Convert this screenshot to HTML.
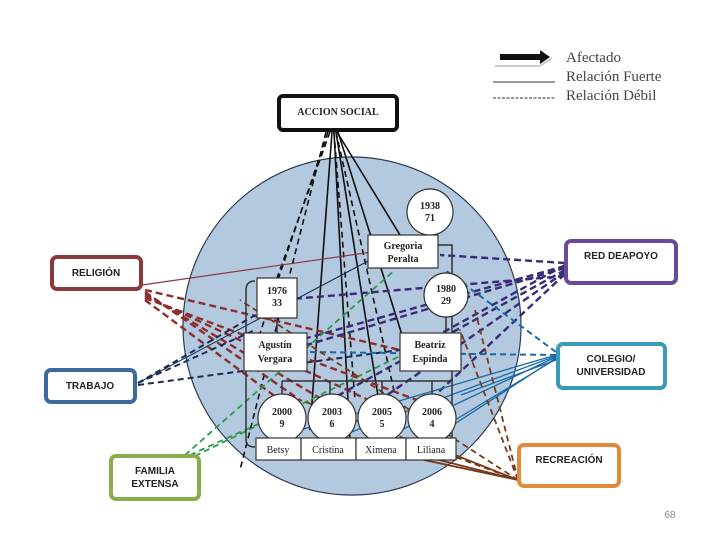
<!DOCTYPE html>
<html><head><meta charset="utf-8"><style>
body{margin:0;background:#fff}
svg{display:block}
.s{font-family:"Liberation Serif",serif;font-weight:bold;font-size:10px;fill:#222}
.b{font-family:"Liberation Sans",sans-serif;font-weight:bold;font-size:10px;fill:#222}
.lg{font-family:"Liberation Serif",serif;font-size:15px;fill:#444}
</style></head><body>
<svg width="720" height="540" viewBox="0 0 720 540">
<!-- legend -->
<polygon points="500,54 540,54 540,50 550,57 540,64 540,60 500,60" fill="#111"/>
<line x1="495" y1="66" x2="540" y2="66" stroke="#ccc" stroke-width="2"/>
<line x1="540" y1="66" x2="552" y2="58" stroke="#ccc" stroke-width="2"/>
<line x1="493" y1="82" x2="555" y2="82" stroke="#333" stroke-width="1"/>
<line x1="493" y1="98" x2="555" y2="98" stroke="#333" stroke-width="1" stroke-dasharray="3,1.5"/>
<text x="566" y="62" class="lg">Afectado</text>
<text x="566" y="81" class="lg">Relación Fuerte</text>
<text x="566" y="100" class="lg">Relación Débil</text>

<circle cx="352" cy="326" r="169" fill="#b3c9df" stroke="#2a3a55" stroke-width="1.2"/>

<!-- lines from accion social -->
<g stroke="#111" stroke-width="1.6" fill="none">
<line x1="330" y1="132" x2="277" y2="278" stroke-dasharray="6,4"/>
<line x1="332" y1="132" x2="310" y2="430"/>
<line x1="334" y1="132" x2="350" y2="440"/>
<line x1="336" y1="132" x2="395" y2="395" stroke-dasharray="6,4"/>
<line x1="337" y1="132" x2="400" y2="235"/>
<line x1="338" y1="132" x2="402" y2="335"/>
<line x1="336" y1="132" x2="385" y2="440"/>
<line x1="334" y1="132" x2="355" y2="400" stroke-dasharray="6,4"/>
<line x1="328" y1="132" x2="260" y2="333" stroke-dasharray="6,4"/>
<line x1="326" y1="132" x2="240" y2="470" stroke-dasharray="6,4"/>
</g>
<!-- religion (dark red) -->
<g stroke="#8b2e2e" stroke-width="2.4" fill="none" stroke-dasharray="7,4">
<line x1="145" y1="290" x2="400" y2="350"/>
<line x1="145" y1="292" x2="300" y2="400"/>
<line x1="145" y1="294" x2="340" y2="410"/>
<line x1="145" y1="296" x2="390" y2="410"/>
<line x1="145" y1="298" x2="430" y2="405"/>
<line x1="145" y1="300" x2="280" y2="400"/>
</g>
<line x1="142" y1="285" x2="372" y2="252" stroke="#8b3a4a" stroke-width="1.2"/>
<!-- red de apoyo (purple) -->
<g stroke="#3a2a7a" stroke-width="2.4" fill="none" stroke-dasharray="7,4">
<line x1="565" y1="263" x2="440" y2="255"/>
<line x1="565" y1="266" x2="300" y2="340"/>
<line x1="565" y1="268" x2="290" y2="350"/>
<line x1="565" y1="270" x2="330" y2="400"/>
<line x1="565" y1="272" x2="380" y2="400"/>
<line x1="565" y1="274" x2="430" y2="400"/>
<line x1="565" y1="276" x2="280" y2="300"/>
<line x1="565" y1="265" x2="420" y2="345"/>
</g>
<!-- trabajo -->
<g stroke="#1a2a55" stroke-width="2" fill="none" stroke-dasharray="6,4">
<line x1="138" y1="383" x2="255" y2="330"/>
<line x1="138" y1="385" x2="400" y2="350"/>
<line x1="138" y1="383" x2="290" y2="295"/>
</g>
<line x1="138" y1="383" x2="370" y2="260" stroke="#1a2a55" stroke-width="1"/>
<!-- colegio (blue) -->
<g stroke="#1a6aa8" stroke-width="1.3" fill="none">
<line x1="556" y1="355" x2="300" y2="430"/>
<line x1="556" y1="356" x2="330" y2="440"/>
<line x1="556" y1="357" x2="380" y2="440"/>
<line x1="556" y1="358" x2="430" y2="440"/>
<line x1="556" y1="359" x2="455" y2="420"/>
<line x1="556" y1="360" x2="461" y2="395"/>
</g>
<g stroke="#1a6aa8" stroke-width="2" fill="none" stroke-dasharray="6,4">
<line x1="556" y1="355" x2="308" y2="352"/>
<line x1="556" y1="352" x2="445" y2="270"/>
</g>
<!-- familia extensa (green) -->
<g stroke="#2a9a4a" stroke-width="1.8" fill="none" stroke-dasharray="6,4">
<line x1="185" y1="455" x2="395" y2="270"/>
<line x1="190" y1="455" x2="300" y2="405"/>
<line x1="195" y1="456" x2="402" y2="355"/>
</g>
<!-- recreacion (brown) -->
<g stroke="#7a3a1a" stroke-width="1.8" fill="none">
<line x1="518" y1="480" x2="330" y2="440" />
<line x1="518" y1="480" x2="380" y2="445"/>
<line x1="518" y1="480" x2="430" y2="445"/>
<line x1="518" y1="480" x2="240" y2="300" stroke-dasharray="6,4"/>
<line x1="518" y1="480" x2="300" y2="400" stroke-dasharray="6,4"/>
<line x1="518" y1="480" x2="460" y2="330" stroke-dasharray="6,4"/>
<line x1="518" y1="480" x2="475" y2="310" stroke-dasharray="6,4"/>
</g>

<!-- family structure -->
<g stroke="#333" stroke-width="1.5" fill="none">
<path d="M255,281 Q246,281 246,290 L246,440 Q246,447 255,447"/>
<path d="M438,245 L452,245 L452,440 L445,447"/>
<line x1="277" y1="318" x2="277" y2="333"/>
<line x1="446" y1="317" x2="446" y2="333"/>
<line x1="282" y1="381" x2="450" y2="381"/>
<line x1="282" y1="381" x2="282" y2="397"/>
<line x1="330" y1="381" x2="330" y2="397"/>
<line x1="382" y1="381" x2="382" y2="397"/>
<line x1="432" y1="381" x2="432" y2="397"/>
</g>
<g fill="#fff" stroke="#333" stroke-width="1.2">
<circle cx="430" cy="212" r="23"/>
<rect x="368" y="235" width="70" height="33"/>
<rect x="257" y="278" width="40" height="40"/>
<circle cx="446" cy="295" r="22"/>
<rect x="244" y="333" width="63" height="38"/>
<rect x="400" y="333" width="61" height="38"/>
<circle cx="282" cy="418" r="24"/>
<circle cx="332" cy="418" r="24"/>
<circle cx="382" cy="418" r="24"/>
<circle cx="432" cy="418" r="24"/>
<rect x="256" y="438" width="45" height="22"/>
<rect x="301" y="438" width="55" height="22"/>
<rect x="356" y="438" width="50" height="22"/>
<rect x="406" y="438" width="50" height="22"/>
</g>
<g class="s" text-anchor="middle">
<text x="430" y="209">1938</text><text x="430" y="221">71</text>
<text x="403" y="249">Gregoria</text><text x="403" y="262">Peralta</text>
<text x="277" y="294">1976</text><text x="277" y="306">33</text>
<text x="446" y="292">1980</text><text x="446" y="304">29</text>
<text x="275" y="348">Agustín</text><text x="275" y="362">Vergara</text>
<text x="430" y="348">Beatriz</text><text x="430" y="362">Espinda</text>
<text x="282" y="415">2000</text><text x="282" y="427">9</text>
<text x="332" y="415">2003</text><text x="332" y="427">6</text>
<text x="382" y="415">2005</text><text x="382" y="427">5</text>
<text x="432" y="415">2006</text><text x="432" y="427">4</text>
<text x="278" y="453" font-weight="normal">Betsy</text>
<text x="328" y="453" font-weight="normal">Cristina</text>
<text x="381" y="453" font-weight="normal">Ximena</text>
<text x="431" y="453" font-weight="normal">Liliana</text>
</g>

<!-- outer boxes -->
<g fill="#fff" stroke-width="4">
<rect x="279" y="96" width="118" height="34" rx="4" stroke="#111"/>
<rect x="52" y="257" width="89" height="32" rx="5" stroke="#8b3a3a"/>
<rect x="46" y="370" width="89" height="32" rx="5" stroke="#3a6a9f"/>
<rect x="111" y="456" width="88" height="43" rx="5" stroke="#8aac4a"/>
<rect x="566" y="241" width="110" height="42" rx="5" stroke="#6a4a98"/>
<rect x="558" y="344" width="107" height="44" rx="5" stroke="#3a9ab8"/>
<rect x="519" y="445" width="100" height="41" rx="5" stroke="#e08a3a"/>
</g>
<g class="b" text-anchor="middle">
<text x="338" y="115" style="font-family:'Liberation Serif',serif">ACCION SOCIAL</text>
<text x="96" y="276">RELIGIÓN</text>
<text x="90" y="389">TRABAJO</text>
<text x="155" y="474">FAMILIA</text><text x="155" y="487">EXTENSA</text>
<text x="621" y="259">RED DEAPOYO</text>
<text x="611" y="362">COLEGIO/</text><text x="611" y="375">UNIVERSIDAD</text>
<text x="569" y="463">RECREACIÓN</text>
</g>
<text x="670" y="518" font-size="10" fill="#888" text-anchor="middle" style="font-family:'Liberation Sans',sans-serif">68</text>
</svg>
</body></html>
